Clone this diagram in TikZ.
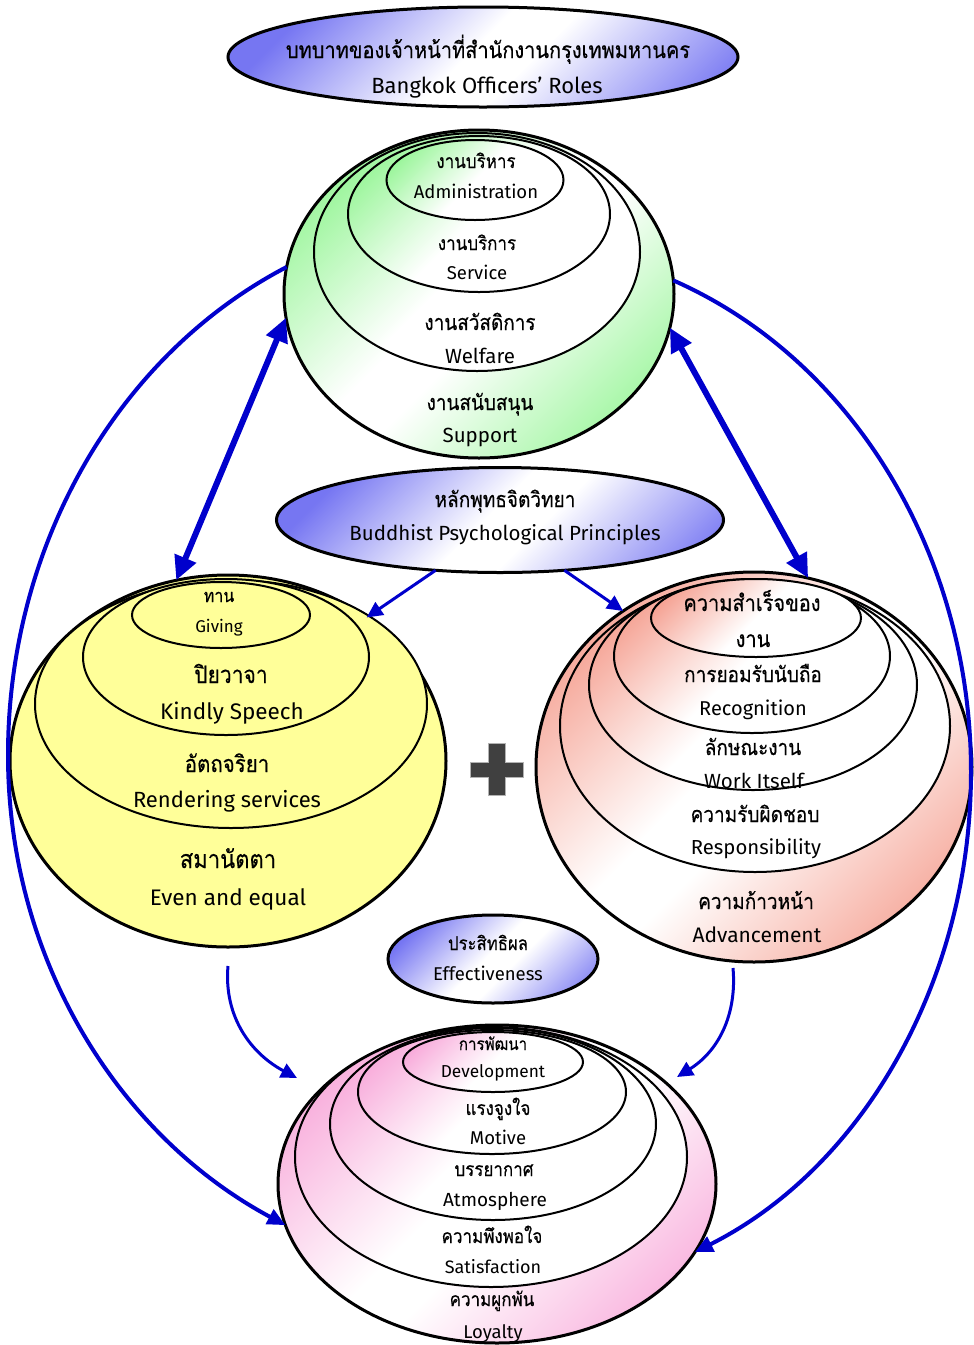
\documentclass[tikz,border=0pt]{standalone}
\usepackage{fontspec}
\setmainfont{Fira Sans}
\newfontfamily\thaifont[Script=Thai,FakeStretch=0.88,FakeBold=0.4]{Loma}
\usetikzlibrary{shapes.geometric,arrows.meta}

\definecolor{cBlue}{RGB}{118,118,242}
\definecolor{cGreen}{RGB}{150,245,150}
\definecolor{cRed}{RGB}{245,160,145}
\definecolor{cPink}{RGB}{248,170,218}
\definecolor{cYellow}{RGB}{255,255,153}
\definecolor{arr}{RGB}{0,0,204}
\definecolor{plusc}{RGB}{64,64,64}

\pgfdeclarehorizontalshading{shBlue}{100bp}{color(0bp)=(cBlue); color(24bp)=(cBlue); color(48bp)=(white); color(56bp)=(white); color(82bp)=(cBlue); color(100bp)=(cBlue)}
\pgfdeclarehorizontalshading{shGreenO}{100bp}{color(0bp)=(cGreen); color(22bp)=(cGreen); color(47bp)=(white); color(54bp)=(white); color(80bp)=(cGreen); color(100bp)=(cGreen)}
\pgfdeclarehorizontalshading{shGreenI}{100bp}{color(0bp)=(cGreen); color(22bp)=(cGreen); color(50bp)=(white); color(100bp)=(white)}
\pgfdeclarehorizontalshading{shRedO}{100bp}{color(0bp)=(cRed); color(22bp)=(cRed); color(47bp)=(white); color(54bp)=(white); color(80bp)=(cRed); color(100bp)=(cRed)}
\pgfdeclarehorizontalshading{shRedI}{100bp}{color(0bp)=(cRed); color(22bp)=(cRed); color(50bp)=(white); color(100bp)=(white)}
\pgfdeclarehorizontalshading{shPinkO}{100bp}{color(0bp)=(cPink); color(22bp)=(cPink); color(47bp)=(white); color(54bp)=(white); color(80bp)=(cPink); color(100bp)=(cPink)}
\pgfdeclarehorizontalshading{shPinkI}{100bp}{color(0bp)=(cPink); color(22bp)=(cPink); color(50bp)=(white); color(100bp)=(white)}

\tikzset{
  ellbase/.style={ellipse, draw=black, inner sep=0pt, outer sep=0pt},
  outerE/.style={ellbase, line width=3pt},
  innerE/.style={ellbase, line width=2pt},
  labelE/.style={ellbase, line width=3pt, shading=shBlue, shading angle=-45},
  gO/.style={shading=shGreenO, shading angle=-45},
  gI/.style={shading=shGreenI, shading angle=-45},
  rO/.style={shading=shRedO, shading angle=-45},
  rI/.style={shading=shRedI, shading angle=-45},
  pO/.style={shading=shPinkO, shading angle=-45},
  pI/.style={shading=shPinkI, shading angle=-45},
  yF/.style={fill=cYellow},
  bigarrow/.style={draw=arr, line width=6pt, {Triangle[length=24pt,width=22pt]}-{Triangle[length=24pt,width=22pt]}},
  loop/.style={draw=arr, line width=4pt, -{Triangle[length=18pt,width=16pt]}},
  smallarrow/.style={draw=arr, line width=3pt, -{Triangle[length=16pt,width=15pt]}},
}

\newcommand\entxt[5]{\node[anchor=base, inner sep=0pt, font=\fontsize{#4}{#4}\selectfont] (#1) at (#2,#3) {#5};}
\newcommand\thtxt[5]{\node[anchor=base, inner sep=0pt, font=\fontsize{#4}{#4}\selectfont\thaifont] (#1) at (#2,#3) {#5};}

\begin{document}
\begin{tikzpicture}[x=1pt,y=-1pt]
\useasboundingbox (0,0) rectangle (974,1345);

\coordinate (lmid) at (8,755);
\coordinate (rmid) at (971,772);

% title
\node[labelE, minimum width=510pt, minimum height=100pt] (title) at (483,57) {};
\thtxt{ti1}{488}{58}{22.7}{บทบาทของเจ้าหน้าที่สำนักงานกรุงเทพมหานคร}
\entxt{ti2}{487}{93}{22}{Bangkok Officers’ Roles}

% green
\node[outerE, gO, minimum width=390pt, minimum height=328pt] (green) at (479,294) {};
\node[innerE, gI, minimum width=326pt, minimum height=238pt] (gWel) at (477,252) {};
\node[innerE, gI, minimum width=262pt, minimum height=156pt] (gSer) at (479,214) {};
\node[innerE, gI, minimum width=177pt, minimum height=80pt] (gAdm) at (475,180) {};
\thtxt{g1}{476}{168}{19.3}{งานบริหาร}
\entxt{g2}{476}{198}{18.5}{Administration}
\thtxt{g3}{477}{250}{19.3}{งานบริการ}
\entxt{g4}{477}{279}{18.5}{Service}
\thtxt{g5}{480}{330}{21.5}{งานสวัสดิการ}
\entxt{g6}{480}{363}{20.5}{Welfare}
\thtxt{g7}{480}{410}{21.5}{งานสนับสนุน}
\entxt{g8}{480}{442}{20.5}{Support}

% buddhist
\node[labelE, minimum width=447pt, minimum height=105pt] (budd) at (500,520) {};
\thtxt{b1}{505}{507}{21.6}{หลักพุทธจิตวิทยา}
\entxt{b2}{505}{540}{20.5}{Buddhist Psychological Principles}

% yellow
\node[outerE, yF, minimum width=436pt, minimum height=372pt] (yellow) at (228,761) {};
\node[innerE, yF, minimum width=392pt, minimum height=248pt] (yRen) at (231,704) {};
\node[innerE, yF, minimum width=286pt, minimum height=156pt] (yKin) at (226,657) {};
\node[innerE, yF, minimum width=178pt, minimum height=66pt] (yGiv) at (221,615) {};
\thtxt{y1}{219}{602}{18.2}{ทาน}
\entxt{y2}{219}{632}{17}{Giving}
\thtxt{y3}{231}{683}{23.9}{ปิยวาจา}
\entxt{y4}{232}{719}{22.5}{Kindly Speech}
\thtxt{y5}{227}{772}{23.3}{อัตถจริยา}
\entxt{y6}{227}{807}{22}{Rendering services}
\thtxt{y7}{228}{868}{25}{สมานัตตา}
\entxt{y8}{228}{905}{22.5}{Even and equal}

% red
\node[outerE, rO, minimum width=436pt, minimum height=390pt] (red) at (754,767) {};
\node[innerE, rI, minimum width=390pt, minimum height=292pt] (rRes) at (755,726) {};
\node[innerE, rI, minimum width=328pt, minimum height=210pt] (rWor) at (753,685) {};
\node[innerE, rI, minimum width=276pt, minimum height=154pt] (rRec) at (752,656) {};
\node[innerE, rI, minimum width=210pt, minimum height=78pt] (rAch) at (756,618) {};
\thtxt{r1}{752}{611}{22.7}{ความสำเร็จของ}
\thtxt{r2}{753}{647}{22.7}{งาน}
\thtxt{r3}{753}{682}{21.6}{การยอมรับนับถือ}
\entxt{r4}{753}{715}{20}{Recognition}
\thtxt{r5}{753}{755}{21.6}{ลักษณะงาน}
\entxt{r6}{754}{788}{20.5}{Work Itself}
\thtxt{r7}{755}{822}{21.6}{ความรับผิดชอบ}
\entxt{r8}{756}{854}{20.3}{Responsibility}
\thtxt{r9}{756}{909}{21.6}{ความก้าวหน้า}
\entxt{r10}{757}{942}{21}{Advancement}

% plus
\draw[fill=plusc, draw=gray!60, line width=0.8pt]
  (488,743) -- (505,743) -- (505,762) -- (523,762) -- (523,777) -- (505,777)
  -- (505,795) -- (488,795) -- (488,777) -- (470,777) -- (470,762) -- (488,762) -- cycle;

% effectiveness
\node[labelE, minimum width=210pt, minimum height=88pt] (eff) at (493,959) {};
\thtxt{e1}{488}{950}{19}{ประสิทธิผล}
\entxt{e2}{488}{980}{18.5}{Effectiveness}

% pink
\node[outerE, pO, minimum width=438pt, minimum height=318pt] (pink) at (497,1184) {};
\node[innerE, pI, minimum width=392pt, minimum height=260pt] (pSat) at (491,1157) {};
\node[innerE, pI, minimum width=326pt, minimum height=192pt] (pAtm) at (493,1124) {};
\node[innerE, pI, minimum width=268pt, minimum height=124pt] (pMot) at (492,1092) {};
\node[innerE, pI, minimum width=180pt, minimum height=60pt] (pDev) at (493,1062) {};
\thtxt{p1}{493}{1050}{17.2}{การพัฒนา}
\entxt{p2}{493}{1077}{17.3}{Development}
\thtxt{p3}{498}{1115}{19.3}{แรงจูงใจ}
\entxt{p4}{498}{1144}{18.5}{Motive}
\thtxt{p5}{494}{1176}{19.3}{บรรยากาศ}
\entxt{p6}{495}{1206}{19}{Atmosphere}
\thtxt{p7}{492}{1243}{19.3}{ความพึงพอใจ}
\entxt{p8}{493}{1273}{18}{Satisfaction}
\thtxt{p9}{492}{1306}{19.3}{ความผูกพัน}
\entxt{p10}{493}{1338}{18.5}{Loyalty}

% connectors
\draw[loop] (green.172.3) .. controls (116,356) and (8,547) .. (lmid)
  .. controls (8,960) and (119,1136) .. (pink.191);
\draw[loop] (green.4.7) .. controls (854,360) and (971,556) .. (rmid)
  .. controls (971,979) and (864,1167) .. (pink.-19.7);
\draw[bigarrow] (green.187.6) -- (yellow.106.5);
\draw[bigarrow] (green.-10.8) -- (red.74);
\draw[smallarrow] (budd.218) -- (yellow.46);
\draw[smallarrow] (budd.-38.7) -- (red.130);
\coordinate (fl) at (228,966);
\coordinate (fle) at (297,1078);
\coordinate (fr) at (733,968);
\coordinate (fre) at (677,1077);
\draw[smallarrow] (fl) to[out=-95,in=152] (fle);
\draw[smallarrow] (fr) to[out=-85,in=32] (fre);
\end{tikzpicture}
\end{document}
